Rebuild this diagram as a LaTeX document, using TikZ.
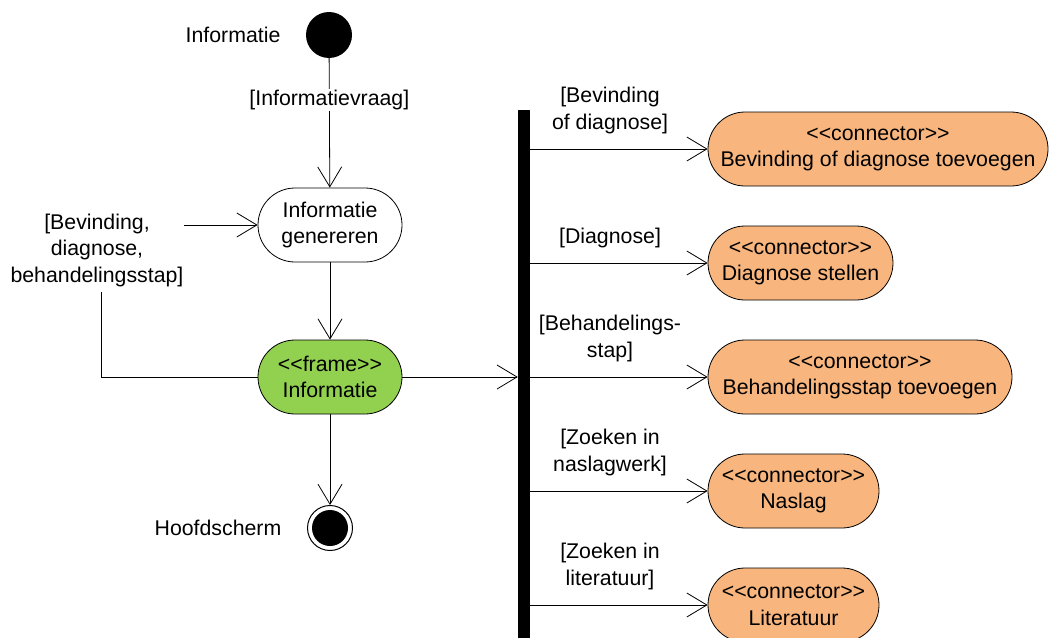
\documentclass[tikz,border=0pt]{standalone}
\usepackage{fontspec}
\setmainfont{Liberation Sans}
\usetikzlibrary{arrows.meta,positioning}
\newcommand\stereotype[1]{<{}<#1>{}>}
\definecolor{framegreen}{RGB}{146,208,80}
\definecolor{connorange}{RGB}{248,182,126}

\begin{document}
\begin{tikzpicture}[x=1pt,y=-1pt,
  font=\fontsize{21.3}{26.5}\selectfont,
  flow/.style={draw, line width=0.8pt,
    -{Straight Barb[length=20pt,width=24pt,line width=0.8pt]}},
  activity/.style={rectangle, rounded corners=37pt, minimum height=74pt,
    draw, line width=0.8pt, align=center, inner sep=0pt},
  frameact/.style={activity, fill=framegreen},
  connact/.style={activity, fill=connorange},
  lbl/.style={align=center, inner sep=1pt, fill=white},
  guard/.style={align=center, inner sep=1pt, above=14pt, pos=0.45},
]
\useasboundingbox (0,0) rectangle (1049,637);

% start and end states
\node[circle, fill=black, minimum size=46pt, inner sep=0pt] (init) at (329,35) {};
\node (initlbl) at (233,35) {Informatie};
\node[circle, draw, line width=1pt, minimum size=45pt, inner sep=0pt] (final) at (330,528) {};
\node[circle, fill=black, minimum size=36pt, inner sep=0pt] (finaldot) at (final) {};
\node (finallbl) at (218,528) {Hoofdscherm};

% main activities
\node[activity, minimum width=144pt] (gen) at (330,225) {Informatie\\genereren};
\node[frameact, minimum width=144pt] (frame) at (330,377) {\stereotype{frame}\\Informatie};

% fork bar
\node[fill=black, minimum width=12pt, minimum height=530pt, inner sep=0pt, anchor=north] (bar) at (524,110) {};

% connector activities
\node[connact, minimum width=340pt] (n1) at (878,149) {\stereotype{connector}\\Bevinding of diagnose toevoegen};
\node[connact, minimum width=185pt] (n2) at (800.5,263) {\stereotype{connector}\\Diagnose stellen};
\node[connact, minimum width=304pt] (n3) at (860,377) {\stereotype{connector}\\Behandelingsstap toevoegen};
\node[connact, minimum width=171pt] (n4) at (793.5,491) {\stereotype{connector}\\Naslag};
\node[connact, minimum width=171pt] (n5) at (793.5,605) {\stereotype{connector}\\Literatuur};

% flows
\draw[flow] (init) -- node[lbl, pos=0.32] {[Informatievraag]} (gen);
\draw[flow] (gen) -- (frame);
\draw[flow] (frame) -- (final);
\coordinate (bend) at (101,225);
\draw[flow] (frame.west) -| (bend) -- (gen.west);
\node[lbl, inner ysep=6pt] (looplbl) at (97,250) {[Bevinding,\\diagnose,\\behandelingsstap]};
\draw[flow] (frame.east) -- (bar.west |- frame.east);

\draw[flow] (bar.east |- n1.west) -- node[guard] {[Bevinding\\of diagnose]} (n1.west);
\draw[flow] (bar.east |- n2.west) -- node[guard] {[Diagnose]} (n2.west);
\draw[flow] (bar.east |- n3.west) -- node[guard] {[Behandelings-\\stap]} (n3.west);
\draw[flow] (bar.east |- n4.west) -- node[guard] {[Zoeken in\\naslagwerk]} (n4.west);
\draw[flow] (bar.east |- n5.west) -- node[guard] {[Zoeken in\\literatuur]} (n5.west);
\end{tikzpicture}
\end{document}
